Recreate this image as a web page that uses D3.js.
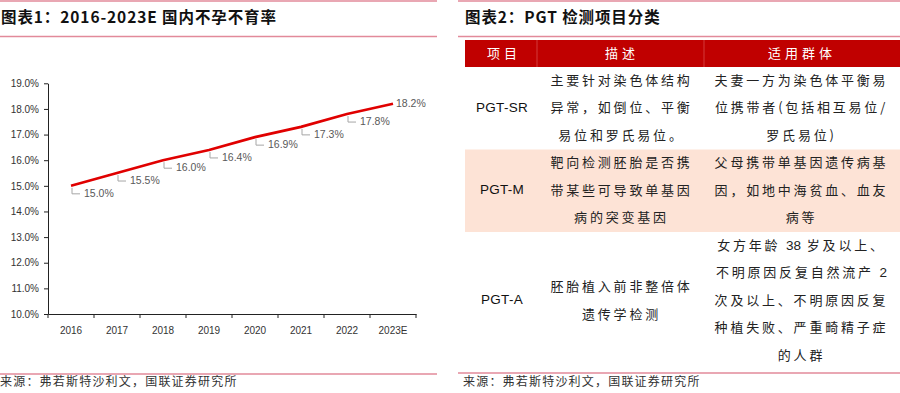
<!DOCTYPE html>
<meta charset="utf-8">
<script src="https://cdn.jsdelivr.net/npm/d3@7"></script>
<style>
  body { margin: 0; background: #fff; }
  svg { display: block; }
  .title { font-family: "Noto Sans CJK SC", sans-serif; font-weight: 700; font-size: 15.5px; fill: #111; letter-spacing: 0.9px; }
  .source { font-family: "Noto Sans CJK SC", sans-serif; font-size: 12px; fill: #333; letter-spacing: 1.2px; }
  .axis text { font-family: "Liberation Sans", Arial, sans-serif; font-size: 10px; fill: #333; }
  .axis path, .axis line { stroke: #222; }
  .dlabel { font-family: "Liberation Sans", Arial, sans-serif; font-size: 10.5px; fill: #595959; }
  .cell { font-family: "Noto Sans CJK SC", sans-serif; font-size: 13px; fill: #222; letter-spacing: 2.8px; }
  .cell tspan.lat { font-family: "Liberation Sans", Arial, sans-serif; letter-spacing: 0; font-size: 13.5px; }
  .cell.latin { font-family: "Liberation Sans", Arial, sans-serif; letter-spacing: 0.3px; font-size: 13.5px; fill: #111; }
  .head { font-family: "Noto Sans CJK SC", sans-serif; font-size: 13px; fill: #fff; letter-spacing: 4px; }
</style>
<div id="chart"></div>
<script>
// ---- data: chart 1
var years = ["2016", "2017", "2018", "2019", "2020", "2021", "2022", "2023E"];
var rates = [0.150, 0.155, 0.160, 0.164, 0.169, 0.173, 0.178, 0.182];
var yTicks = [0.10, 0.11, 0.12, 0.13, 0.14, 0.15, 0.16, 0.17, 0.18, 0.19];

// ---- data: table 2
var headers = ["项目", "描述", "适用群体"];
var rowNames = ["PGT-SR", "PGT-M", "PGT-A"];
var rowDesc = [
  ["主要针对染色体结构", "异常，如倒位、平衡", "易位和罗氏易位。"],
  ["靶向检测胚胎是否携", "带某些可导致单基因", "病的突变基因"],
  ["胚胎植入前非整倍体", "遗传学检测"]
];
var rowGroup = [
  ["夫妻一方为染色体平衡易", "位携带者(包括相互易位/", "罗氏易位)"],
  ["父母携带单基因遗传病基", "因，如地中海贫血、血友", "病等"],
  ["女方年龄 38 岁及以上、", "不明原因反复自然流产 2", "次及以上、不明原因反复", "种植失败、严重畸精子症", "的人群"]
];

var W = 900, H = 393;
var svg = d3.select("#chart").append("svg").attr("width", W).attr("height", H);
var pink = "#e28a9a";

function rule(x1, x2, y) {
  svg.append("line").attr("x1", x1).attr("x2", x2).attr("y1", y).attr("y2", y)
    .attr("stroke", pink).attr("stroke-width", 1.6);
}

// ---------- left panel ----------
rule(0, 437, 1);
rule(0, 437, 36.5);
rule(0, 437, 374);
svg.append("text").attr("class", "title").attr("x", 1).attr("y", 19)
  .attr("dominant-baseline", "middle").text("图表1：2016-2023E 国内不孕不育率");
svg.append("text").attr("class", "source").attr("x", 0).attr("y", 383)
  .attr("dominant-baseline", "middle").text("来源：弗若斯特沙利文，国联证券研究所");

var x = d3.scaleBand().domain(years).range([48, 416]);
var y = d3.scaleLinear().domain([0.10, 0.19]).range([314, 83.3]);

// y axis
svg.append("g").attr("class", "axis")
  .attr("transform", "translate(48,0)")
  .call(d3.axisLeft(y).tickValues(yTicks).tickFormat(d3.format(".1%")).tickSize(4).tickSizeOuter(0))
  .call(function(g) { g.selectAll("text").attr("x", -9); });

// x axis: labels at band centres, ticks at band edges
var xg = svg.append("g").attr("class", "axis").attr("transform", "translate(0,314)");
xg.call(d3.axisBottom(x).tickSize(0).tickPadding(13));
xg.selectAll(".edge").data(years.concat(["end"])).enter().append("line")
  .attr("class", "edge")
  .attr("x1", function(d, i) { return x.range()[0] + i * x.bandwidth(); })
  .attr("x2", function(d, i) { return x.range()[0] + i * x.bandwidth(); })
  .attr("y1", 0).attr("y2", 4);

var pts = years.map(function(d, i) {
  return { year: d, v: rates[i], px: x(d) + x.bandwidth() / 2, py: y(rates[i]) };
});

svg.append("path").datum(pts)
  .attr("fill", "none").attr("stroke", "#e00000").attr("stroke-width", 2.6)
  .attr("d", d3.line().x(function(d) { return d.px; }).y(function(d) { return d.py; }));

var last = pts.length - 1;
svg.selectAll(".leader").data(pts.slice(0, last)).enter().append("path")
  .attr("class", "leader").attr("fill", "none").attr("stroke", "#a6a6a6").attr("stroke-width", 1)
  .attr("d", function(d) { return "M" + (d.px + 1) + "," + (d.py + 2) + "V" + (d.py + 8) + "H" + (d.px + 9); });

svg.selectAll(".dlabel").data(pts).enter().append("text")
  .attr("class", "dlabel")
  .attr("x", function(d, i) { return i === last ? d.px + 3 : d.px + 13; })
  .attr("y", function(d, i) { return i === last ? d.py : d.py + 8; })
  .attr("dominant-baseline", "middle")
  .text(function(d) { return d3.format(".1%")(d.v); });

// ---------- right panel ----------
rule(458, 900, 1);
rule(458, 900, 36.5);
rule(458, 900, 373);
svg.append("text").attr("class", "title").attr("x", 465).attr("y", 19)
  .attr("dominant-baseline", "middle").text("图表2：PGT 检测项目分类");
svg.append("text").attr("class", "source").attr("x", 463).attr("y", 383)
  .attr("dominant-baseline", "middle").text("来源：弗若斯特沙利文，国联证券研究所");

var colX = [502, 620, 800];
var colEdges = [537, 704];
var tLeft = 465, tRight = 900, headTop = 40, headBot = 67, lineH = 27.5;

svg.append("rect").attr("x", tLeft).attr("y", headTop).attr("width", tRight - tLeft)
  .attr("height", headBot - headTop).attr("fill", "#c00000");
colEdges.forEach(function(cx) {
  svg.append("line").attr("x1", cx).attr("x2", cx).attr("y1", headTop).attr("y2", headBot)
    .attr("stroke", "#d84a4a").attr("stroke-width", 0.8);
});
svg.selectAll(".head").data(headers).enter().append("text")
  .attr("class", "head").attr("text-anchor", "middle").attr("dominant-baseline", "middle")
  .attr("x", function(d, i) { return colX[i] + 2; }).attr("y", (headTop + headBot) / 2 + 1)
  .text(function(d) { return d; });

// split a line into runs of digits and CJK so digits are not letter-spaced
function addRuns(textSel, t) {
  var runs = t.match(/[0-9]+|[^0-9]+/g);
  runs.forEach(function(s) {
    textSel.append("tspan").attr("class", /[0-9]/.test(s) ? "lat" : null).text(s);
  });
}

var rowTop = headBot;
rowNames.forEach(function(name, r) {
  var n = Math.max(rowDesc[r].length, rowGroup[r].length);
  var h = n * lineH;
  if (r === 1) {
    svg.append("rect").attr("x", tLeft).attr("y", rowTop).attr("width", tRight - tLeft)
      .attr("height", h).attr("fill", "#fde3d6");
  }
  var mid = rowTop + h / 2;
  svg.append("text").attr("class", "cell latin").attr("x", colX[0]).attr("y", mid)
    .attr("text-anchor", "middle").attr("dominant-baseline", "middle").text(name);
  [rowDesc[r], rowGroup[r]].forEach(function(lines, c) {
    var y0 = mid - (lines.length - 1) * lineH / 2;
    lines.forEach(function(t, k) {
      var tx = svg.append("text").attr("class", "cell")
        .attr("x", colX[c + 1] + 1.5).attr("y", y0 + k * lineH)
        .attr("text-anchor", "middle").attr("dominant-baseline", "middle");
      addRuns(tx, t);
    });
  });
  rowTop += h;
});
</script>
